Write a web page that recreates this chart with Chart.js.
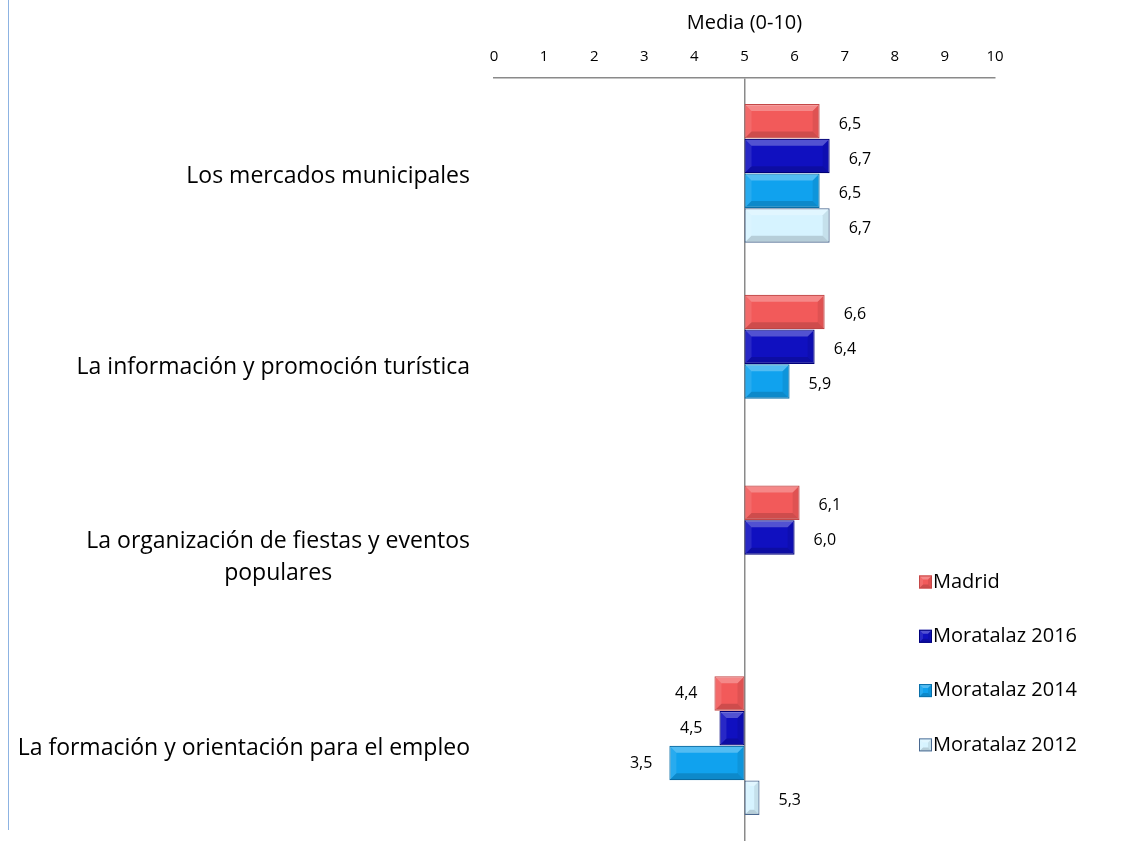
<!DOCTYPE html>
<html>
<head>
<meta charset="utf-8">
<script src="https://cdn.jsdelivr.net/npm/chart.js@4.4.1/dist/chart.umd.min.js"></script>
<style>
  body { margin: 0; background: #fff; }
  #wrap { position: relative; width: 1127px; height: 843px; }
  #edge { position: absolute; left: 8px; top: 0; width: 1px; height: 830px; background: #8db3e2; }
</style>
</head>
<body>
<div id="wrap">
  <div id="edge"></div>
  <canvas id="grafik" width="1127" height="843"></canvas>
</div>
<script>
const categories = [
  ['Los mercados municipales'],
  ['La información y promoción turística'],
  ['La organización de fiestas y eventos', 'populares'],
  ['La formación y orientación para el empleo']
];
const seriesNames = ['Madrid', 'Moratalaz 2016', 'Moratalaz 2014', 'Moratalaz 2012'];
const madrid = [6.5, 6.6, 6.1, 4.4];
const moratalaz2016 = [6.7, 6.4, 6.0, 4.5];
const moratalaz2014 = [6.5, 5.9, null, 3.5];
const moratalaz2012 = [6.7, null, null, 5.3];
const xTicks = [0, 1, 2, 3, 4, 5, 6, 7, 8, 9, 10];
const baseValue = 5;

const fills = ['#f25a5a', '#1010c0', '#10a2ee', '#d6f3ff'];
const borders = ['#c44848', '#00007a', '#0a6fa8', '#4a6890'];

const FONT = '"Open Sans"';
Chart.defaults.font.family = FONT;
Chart.defaults.color = '#000';

function floating(values) {
  return values.map(v => v == null ? null : [baseValue, v]);
}

function fmt(v) {
  return v.toFixed(1).replace('.', ',');
}

// bevel look of the original bars
function bevel(ctx, l, t, r, b, size) {
  const s = Math.min(size, (r - l) / 3, (b - t) / 3);
  const poly = (pts, c) => {
    ctx.beginPath();
    ctx.moveTo(pts[0][0], pts[0][1]);
    pts.slice(1).forEach(p => ctx.lineTo(p[0], p[1]));
    ctx.closePath();
    ctx.fillStyle = c;
    ctx.fill();
  };
  poly([[l, t], [r, t], [r - s, t + s], [l + s, t + s]], 'rgba(255,255,255,0.28)');
  poly([[l, t], [l + s, t + s], [l + s, b - s], [l, b]], 'rgba(255,255,255,0.1)');
  poly([[r, t], [r, b], [r - s, b - s], [r - s, t + s]], 'rgba(0,0,0,0.08)');
  poly([[l, b], [r, b], [r - s, b - s], [l + s, b - s]], 'rgba(0,0,0,0.15)');
}

const barDeco = {
  id: 'barDeco',
  afterDatasetsDraw(chart) {
    const ctx = chart.ctx;
    ctx.save();
    chart.data.datasets.forEach((ds, di) => {
      const meta = chart.getDatasetMeta(di);
      meta.data.forEach((bar, i) => {
        const v = ds.values[i];
        if (v == null) return;
        const l = Math.min(bar.x, bar.base), r = Math.max(bar.x, bar.base);
        const t = bar.y - bar.height / 2, b = bar.y + bar.height / 2;
        bevel(ctx, l + 1, t + 1, r - 1, b - 1, 6);
        ctx.font = '16px ' + FONT;
        ctx.fillStyle = '#000';
        ctx.textBaseline = 'middle';
        if (v >= baseValue) {
          ctx.textAlign = 'left';
          ctx.fillText(fmt(v), r + 19, bar.y + 3);
        } else {
          ctx.textAlign = 'right';
          ctx.fillText(fmt(v), l - 17, bar.y);
        }
      });
    });
    ctx.restore();
  }
};

const yLabels = {
  id: 'yLabels',
  afterDraw(chart) {
    const ctx = chart.ctx;
    const scale = chart.scales.y;
    const rightEdge = chart.chartArea.left - 24;
    const lineH = 32;
    ctx.save();
    ctx.font = '23px ' + FONT;
    ctx.fillStyle = '#000';
    ctx.textBaseline = 'middle';
    ctx.textAlign = 'center';
    categories.forEach((lines, i) => {
      const yc = scale.getPixelForValue(i) + 3;
      const w = Math.max(...lines.map(s => ctx.measureText(s).width));
      const cx = rightEdge - w / 2;
      lines.forEach((s, k) => {
        ctx.fillText(s, cx, yc + (k - (lines.length - 1) / 2) * lineH);
      });
    });
    ctx.restore();
  }
};

const legendBox = {
  id: 'legendBox',
  afterDraw(chart) {
    const ctx = chart.ctx;
    const x0 = chart.chartArea.right - 76;
    const y0 = 582, step = 54.3, box = 13;
    ctx.save();
    ctx.font = '20px ' + FONT;
    ctx.textBaseline = 'middle';
    ctx.textAlign = 'left';
    seriesNames.forEach((name, i) => {
      const y = y0 + i * step;
      ctx.fillStyle = fills[i];
      ctx.fillRect(x0, y - box / 2, box, box);
      ctx.strokeStyle = borders[i];
      ctx.lineWidth = 1;
      ctx.strokeRect(x0 + 0.5, y - box / 2 + 0.5, box - 1, box - 1);
      bevel(ctx, x0 + 1, y - box / 2 + 1, x0 + box - 1, y + box / 2 - 1, 3);
      ctx.fillStyle = '#000';
      ctx.fillText(name, x0 + box + 1, y);
    });
    ctx.restore();
  }
};

const seriesValues = [madrid, moratalaz2016, moratalaz2014, moratalaz2012];

new Chart(document.getElementById('grafik'), {
  type: 'bar',
  data: {
    labels: categories,
    datasets: seriesNames.map((name, i) => ({
      label: name,
      values: seriesValues[i],
      data: floating(seriesValues[i]),
      backgroundColor: fills[i],
      borderColor: borders[i],
      borderWidth: 1.2,
      borderSkipped: false,
      categoryPercentage: 0.73,
      barPercentage: 0.99
    }))
  },
  options: {
    indexAxis: 'y',
    responsive: false,
    animation: false,
    layout: { padding: { left: 0, right: 132, top: 0, bottom: 2 } },
    plugins: {
      legend: { display: false },
      tooltip: { enabled: false }
    },
    scales: {
      x: {
        position: 'top',
        min: 0,
        max: 10,
        afterBuildTicks: scale => { scale.ticks = xTicks.map(v => ({ value: v })); },
        afterFit: scale => { scale.height = 78; },
        ticks: { color: '#000', font: { size: 15 }, padding: 12, maxRotation: 0 },
        grid: {
          drawTicks: false,
          color: c => (c.tick && c.tick.value === baseValue) ? '#8a8a8a' : 'rgba(0,0,0,0)',
          lineWidth: 1.5
        },
        border: { display: true, color: '#8a8a8a', width: 1.5 },
        title: {
          display: true,
          text: 'Media (0-10)',
          color: '#000',
          font: { size: 20 },
          padding: { top: 11, bottom: 0 }
        }
      },
      y: {
        afterFit: scale => { scale.width = 494; },
        ticks: { display: false },
        grid: { display: false },
        border: { display: false }
      }
    }
  },
  plugins: [barDeco, yLabels, legendBox]
});
</script>
</body>
</html>
